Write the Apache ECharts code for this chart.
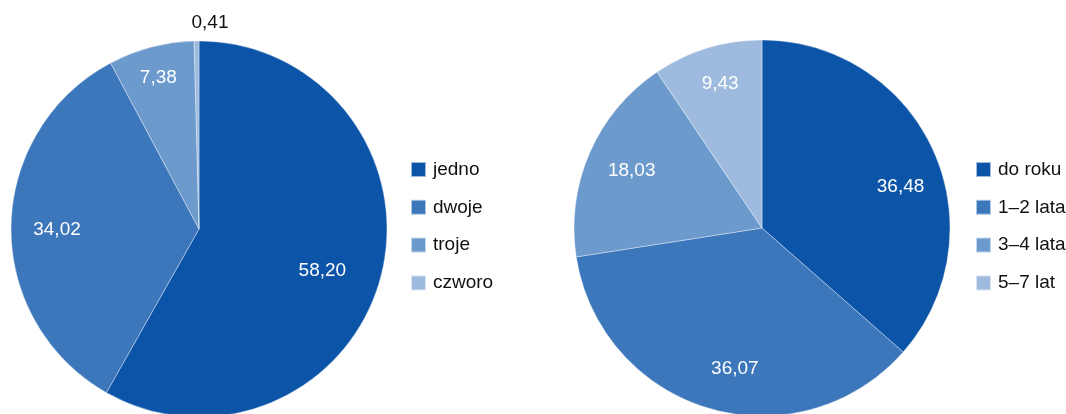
<!DOCTYPE html>
<html>
<head>
<meta charset="utf-8">
<script src="https://cdn.jsdelivr.net/npm/echarts@6/dist/echarts.min.js"></script>
<style>
  html, body { margin: 0; padding: 0; background: #fff; }
  #chart { width: 1066px; height: 414px; }
</style>
</head>
<body>
<div id="chart"></div>
<script>
// lewy wykres - liczba dzieci
var childNames = ["jedno", "dwoje", "troje", "czworo"];
var childValues = [58.20, 34.02, 7.38, 0.41];
// prawy wykres - okres
var periodNames = ["do roku", "1\u20132 lata", "3\u20134 lata", "5\u20137 lat"];
var periodValues = [36.48, 36.07, 18.03, 9.43];

var colors = ['#0b54a8', '#3d77bb', '#6c9acc', '#9ebbdf'];
var FONT = 'Liberation Sans, Arial, sans-serif';

var dom = document.getElementById("chart");
var myChart = echarts.init(dom);

function fmt(v) {
	return v.toFixed(2).replace('.', ',');
}

// per-slice label nudges (Excel style placement)
function buildLabelData(names, values, extra) {
	return names.map(function (n, i) {
		var item = { name: n, value: values[i] };
		if (extra[i]) item.label = extra[i];
		return item;
	});
}

function baseSeries(center, names, values) {
	return {
		type: 'pie',
		center: center,
		radius: [0, 188],
		startAngle: 90,
		silent: true,
		label: { show: false },
		labelLine: { show: false },
		itemStyle: { borderColor: 'rgba(255,255,255,0.6)', borderWidth: 0.6 },
		emphasis: { disabled: true },
		data: names.map(function (n, i) { return { name: n, value: values[i] }; })
	};
}

// transparent ring that carries the labels
function labelSeries(center, names, values, extra) {
	return {
		type: 'pie',
		center: center,
		radius: [86, 188],
		startAngle: 90,
		silent: true,
		itemStyle: { color: 'transparent' },
		label: {
			show: true,
			position: 'inside',
			color: '#fff',
			fontFamily: FONT,
			fontSize: 19,
			formatter: function (p) { return fmt(p.value); }
		},
		labelLine: { show: false },
		emphasis: { disabled: true },
		data: buildLabelData(names, values, extra)
	};
}

function legend(left, names) {
	return {
		orient: 'vertical',
		left: left,
		top: 160,
		padding: 0,
		itemWidth: 15,
		itemHeight: 15,
		itemGap: 18.8,
		icon: 'rect',
		selectedMode: false,
		data: names,
		textStyle: { color: '#111', fontFamily: FONT, fontSize: 19, padding: [0, 0, 0, 2] }
	};
}

var option = {
	animation: false,
	color: colors,
	legend: [legend(410, childNames), legend(975, periodNames)],
	series: [
		baseSeries([199, 229], childNames, childValues),
		baseSeries([762, 228], periodNames, periodValues),
		labelSeries([199, 229], childNames, childValues, {
			0: { offset: [-12, 6] },
			1: { offset: [-2, 3] },
			2: { offset: [-5, -16] },
			3: { position: 'outside', color: '#111', offset: [37, -8] }
		}),
		labelSeries([762, 228], periodNames, periodValues, {
			0: { offset: [11, 16] },
			1: { offset: [12, 6] },
			2: { offset: [-2, -1] },
			3: { offset: [-1, -10] }
		})
	]
};
// outside label for the tiny slice: short, hidden label line
option.series[2].labelLine = { show: false, length: 10, length2: 0 };

myChart.setOption(option, true);
</script>
</body>
</html>
